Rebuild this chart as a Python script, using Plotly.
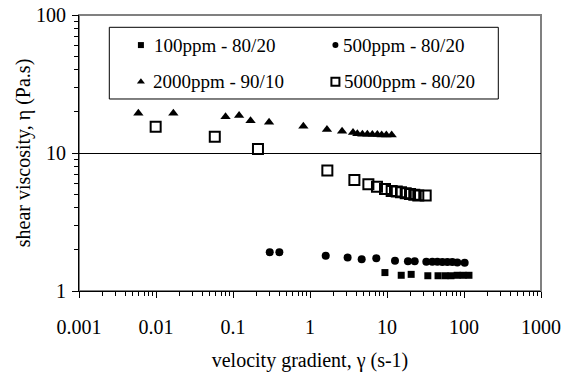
import plotly.graph_objects as go

# ---- data ----
x_100 = [9.4, 15.3, 20.6, 33.9, 46.0, 56.7, 67.8, 81.5, 97.3, 116]
y_100 = [1.36, 1.30, 1.32, 1.29, 1.29, 1.29, 1.29, 1.30, 1.30, 1.30]

x_500 = [0.30, 0.40, 1.60, 3.08, 4.69, 7.26, 12.7, 18.7, 22.9, 32.4, 38.8, 45.1, 52.4, 60.8, 70.5, 81.9, 102]
y_500 = [1.91, 1.91, 1.80, 1.75, 1.70, 1.73, 1.66, 1.64, 1.64, 1.63, 1.63, 1.63, 1.62, 1.62, 1.62, 1.61, 1.60]

x_2000 = [0.0059, 0.0168, 0.080, 0.120, 0.169, 0.294, 0.82, 1.66, 2.61, 3.62, 4.12, 4.79, 5.56, 6.45, 7.49, 8.53, 9.80, 11.5]
y_2000 = [19.4, 19.4, 18.3, 18.7, 17.1, 16.7, 15.6, 14.8, 14.4, 14.1, 13.8, 13.7, 13.7, 13.6, 13.6, 13.5, 13.5, 13.5]

x_5000 = [0.0099, 0.058, 0.211, 1.68, 3.77, 5.73, 7.41, 9.42, 11.5, 13.4, 15.2, 17.5, 19.9, 22.6, 25.5, 31.8]
y_5000 = [15.5, 13.1, 10.7, 7.48, 6.37, 5.93, 5.70, 5.48, 5.31, 5.25, 5.19, 5.10, 5.05, 4.99, 4.93, 4.93]

series_names = ["100ppm - 80/20", "500ppm - 80/20", "2000ppm - 90/10", "5000ppm - 80/20"]
x_ticks = [0.001, 0.01, 0.1, 1, 10, 100, 1000]
x_tick_text = ["0.001", "0.01", "0.1", "1", "10", "100", "1000"]
y_ticks = [1, 10, 100]
y_tick_text = ["1", "10", "100"]

FONT = "Liberation Serif, Times New Roman, serif"

styles = [
    dict(symbol="square", size=7, color="black", line=dict(width=0)),
    dict(symbol="circle", size=8, color="black", line=dict(width=0)),
    dict(symbol="triangle-up", size=9, color="black", line=dict(width=0)),
    dict(symbol="square-open", size=10, color="black", line=dict(width=2, color="black")),
]
legend_styles = [
    dict(symbol="square", size=6, color="black", line=dict(width=0)),
    dict(symbol="circle", size=6, color="black", line=dict(width=0)),
    dict(symbol="triangle-up", size=7, color="black", line=dict(width=0)),
    dict(symbol="square-open", size=8, color="black", line=dict(width=2, color="black")),
]

fig = go.Figure()
for xs, ys, name, st in zip([x_100, x_500, x_2000, x_5000],
                            [y_100, y_500, y_2000, y_5000], series_names, styles):
    fig.add_trace(go.Scatter(x=xs, y=ys, mode="markers", name=name, marker=st,
                             showlegend=False))

# legend drawn inside plot on an overlay axis (fractions of the plot area)
leg_pos = [(0.134, 0.891, 0.158), (0.555, 0.891, 0.567),
           (0.134, 0.758, 0.156), (0.555, 0.758, 0.569)]
for (mx, my, tx), name, st in zip(leg_pos, series_names, legend_styles):
    fig.add_trace(go.Scatter(x=[mx], y=[my], mode="markers", marker=st,
                             xaxis="x2", yaxis="y2", showlegend=False, hoverinfo="skip"))
    fig.add_annotation(x=tx, y=my, xref="x2", yref="y2", text=name, showarrow=False,
                       xanchor="left", yanchor="middle",
                       font=dict(family=FONT, size=19, color="black"))

fig.add_shape(type="rect", xref="x2", yref="y2", x0=0.0656, x1=0.9076, y0=0.6957, y1=0.9554,
              line=dict(color="black", width=1), fillcolor="rgba(0,0,0,0)")
# plot area frame
fig.add_shape(type="rect", xref="paper", yref="paper", x0=0, x1=1, y0=0, y1=1,
              line=dict(color="#808080", width=2), layer="below")

fig.update_layout(
    width=578, height=374,
    margin=dict(l=79, r=37, t=15, b=83),
    paper_bgcolor="white", plot_bgcolor="white",
    font=dict(family=FONT, size=20, color="black"),
    xaxis=dict(type="log", range=[-3, 3], tickvals=x_ticks, ticktext=x_tick_text,
               automargin=False,
               showgrid=False, zeroline=False, showline=True, linecolor="black", linewidth=1,
               ticks="outside", ticklen=6, tickcolor="black", ticklabelstandoff=12,
               tickfont=dict(family=FONT, size=20),
               minor=dict(ticks="outside", ticklen=4, tickcolor="black", dtick="D1", showgrid=False),
               title=dict(text="velocity gradient, γ (s-1)", standoff=15,
                          font=dict(family=FONT, size=20))),
    yaxis=dict(type="log", range=[0, 2], tickvals=y_ticks, ticktext=y_tick_text,
               automargin=False,
               showgrid=True, gridcolor="black", gridwidth=1, zeroline=False,
               showline=True, linecolor="black", linewidth=1,
               ticks="outside", ticklen=6, tickcolor="black", ticklabelstandoff=2,
               tickfont=dict(family=FONT, size=20),
               minor=dict(ticks="outside", ticklen=4, tickcolor="black", dtick="D1", showgrid=False),
               title=dict(text="shear viscosity, η (Pa.s)", standoff=0,
                          font=dict(family=FONT, size=20))),
    xaxis2=dict(overlaying="x", range=[0, 1], visible=False, domain=[0, 1]),
    yaxis2=dict(overlaying="y", range=[0, 1], visible=False, domain=[0, 1]),
    showlegend=False,
)

fig.write_html("out.html", config={"displayModeBar": False},
               post_script="document.body.style.margin='0';")
